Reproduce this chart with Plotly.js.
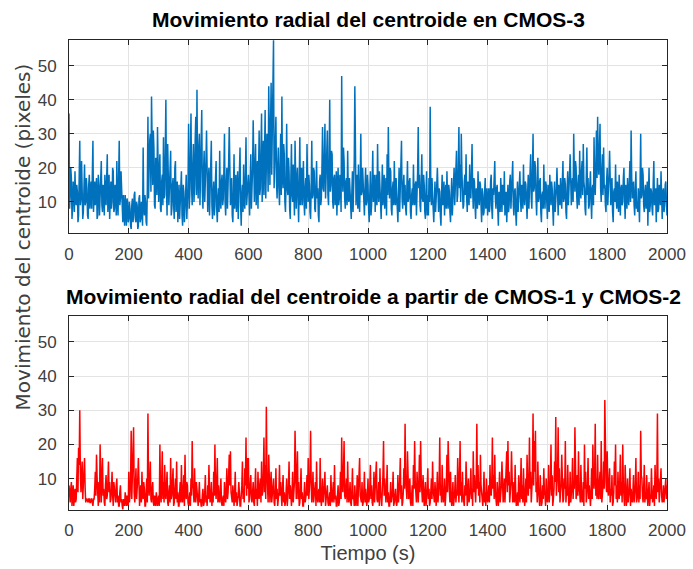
<!DOCTYPE html>
<html>
<head>
<meta charset="utf-8">
<script src="https://cdn.plot.ly/plotly-3.0.1.min.js"></script>
<style>html,body{margin:0;padding:0;background:#fff;}#chart{width:693px;height:569px;}</style>
</head>
<body>
<div id="chart"></div>
<script>
// Sample interval (s): the "main" arrays hold t = 0,4,8,...,2000 and the "mid" arrays t = 2,6,...,1998
const stepSeconds = 2;
const titles = ["Movimiento radial del centroide en CMOS-3", "Movimiento radial del centroide a partir de CMOS-1 y CMOS-2"];
const xTickVals = [0,200,400,600,800,1000,1200,1400,1600,1800,2000];
const yTickVals = [10,20,30,40,50];

// CMOS-3 radial movement (pixels) at t = 0,4,...,2000 s
const cmos3Main = [
36,12,17,8,14,19,9,13,6,28,11,16,7,21,10,14,5,18,12,8,28,13,9,17,6,
15,11,22,7,14,18,9,24,12,5,16,10,19,8,13,22,6,28,11,15,4,9,12,3,10,
5,8,2,11,6,13,4,9,3,12,5,8,26,6,10,3,35,22,30,41,15,26,8,19,32,
10,24,7,18,29,12,40,6,21,14,25,8,17,5,22,11,4,15,9,19,3,13,7,18,10,
33,12,36,9,27,15,35,43,11,30,18,37,8,25,14,31,7,20,12,28,5,16,9,22,4,
14,25,8,18,11,30,6,20,13,32,9,17,4,24,12,7,19,10,26,3,15,21,8,29,11,
18,6,24,13,34,10,27,16,8,31,14,36,20,12,37,18,25,44,15,45,30,57.5,22,35,11,
26,9,30,41,14,24,7,33,12,19,5,27,10,16,28,8,20,4,29,13,9,22,6,17,27,
10,15,5,28,12,19,7,22,14,4,18,11,32,13,33,20,31,9,40,15,24,8,18,12,6,
20,11,16,47,13,22,8,17,25,10,14,5,19,12,44,9,18,21,7,30,13,16,6,20,10,
15,4,19,9,25,12,7,18,27,10,15,5,21,13,8,17,24,32,11,19,6,16,22,9,14,
4,20,12,28,8,18,15,6,22,11,17,5,14,21,9,16,12,32,18,7,24,10,15,5,19,
12,17,38,9,14,4,16,10,20,7,13,3,18,11,6,15,19,8,13,4,17,10,20,14,25,
12,32,21,30,15,9,18,24,7,14,21,11,27,8,16,5,13,19,9,15,4,12,7,17,10,
6,14,9,18,5,12,22,8,15,3,11,17,7,13,19,10,4,15,9,18,12,22,6,14,3,
16,10,19,7,13,21,9,15,5,18,12,24,8,30,14,20,6,23,11,17,4,13,21,8,15,
5,12,18,9,14,3,16,10,20,6,13,17,8,22,11,15,5,19,12,24,9,17,30,13,20,
8,18,25,11,22,27,14,6,26,17,9,19,5,15,29,12,31,35,18,33,10,24,26,15,7,
20,12,25,9,17,4,14,21,8,12,18,6,15,10,20,5,13,17,9,22,31,11,16,6,19,
10,14,4,30,12,18,7,15,10,3,20,9,13,6,22,11,4,17,8,12,19,5,14,9,16,
6
];
// CMOS-3 radial movement (pixels) at t = 2,6,...,1998 s
const cmos3Mid = [
8,20,5,16,7,11,15,4,17,9,22,5,14,9,17,6,15,8,16,21,7,16,12,5,18,
6,19,9,15,6,12,17,7,18,13,8,20,7,15,6,10,17,9,19,6,12,3,8,11,4,
10,3,9,4,12,5,10,2,11,4,10,3,9,12,4,14,11,28,13,20,31,9,23,12,17,
19,8,16,9,11,25,14,27,9,23,6,15,9,20,7,16,12,5,17,6,15,4,12,5,14,
8,24,14,20,10,28,12,18,26,9,22,13,19,10,22,11,16,6,21,9,13,6,17,8,11,
7,11,16,9,19,10,15,8,22,12,14,6,13,8,18,14,5,17,9,12,7,11,18,9,15,
9,16,8,20,14,19,9,22,17,12,25,10,28,22,11,30,13,20,32,18,38,14,30,16,20,
14,20,12,18,27,10,16,14,23,8,17,12,21,6,14,17,11,16,9,20,15,10,14,8,16,
18,7,14,11,20,8,15,11,6,16,9,20,14,24,11,26,12,22,13,25,10,17,9,19,13,
9,18,7,20,26,11,16,9,12,17,8,13,7,22,18,15,8,11,16,12,20,8,14,9,18,
8,12,6,16,10,18,13,9,14,19,7,13,9,18,14,6,12,16,20,8,14,9,11,17,8,
13,7,17,11,15,9,8,14,10,16,7,12,9,11,15,6,19,14,9,16,11,18,7,13,6,
6,10,15,17,8,12,7,15,11,14,6,12,9,16,12,8,11,15,7,12,6,15,9,18,10,
20,14,10,19,8,16,12,11,16,9,13,18,14,17,9,14,8,12,16,9,14,6,13,8,14,
11,7,16,8,14,17,11,14,8,13,7,10,15,9,6,13,11,7,16,8,15,9,13,7,11,
7,14,11,15,8,12,16,10,13,8,15,11,19,13,22,11,14,10,16,7,12,8,12,16,10,
15,7,11,16,8,12,7,14,11,15,9,12,16,10,17,7,14,9,18,13,15,10,19,22,12,
15,9,14,19,12,16,8,17,12,8,15,10,14,9,16,20,17,22,26,14,19,12,14,9,16,
9,18,12,16,7,13,10,11,16,7,10,14,9,17,11,15,8,12,16,10,17,14,9,14,8,
7,10,15,11,20,9,13,8,16,12,7,14,8,16,9,14,12,7,15,9,11,13,7,15,10
];

// Radial movement from CMOS-1 and CMOS-2 (pixels) at t = 0,4,...,2000 s
const cmos12Main = [
8,3,9,5,2,7,4,16,19,30,6,15,10,16,3,4,3,4,3,4,2,4,12,17,5,
9,20,3,16,7,2,11,5,15,9,4,12,2,7,3,10,5,2,8,4,1,3,6,2,4,
12,5,24,9,25,3,13,6,16,2,8,12,4,7,2,10,29,5,15,3,9,2,4,6,2,
5,20,3,18,9,14,4,12,2,8,16,5,13,3,10,15,6,2,9,14,3,11,17,4,8,
2,6,10,21,7,13,3,5,2,9,4,2,7,3,11,5,8,14,3,9,6,12,20,4,16,
8,3,10,2,5,9,3,13,6,17,18,4,8,2,12,6,3,9,2,4,15,7,13,22,16,
16,5,11,3,9,2,13,7,12,4,10,15,6,22,14,31,8,17,3,12,5,10,2,13,7,
4,14,9,2,11,6,3,10,5,15,8,2,12,7,24,4,18,9,3,13,6,2,9,4,11,
16,7,24,3,12,5,9,15,3,7,16,2,10,5,12,4,8,2,6,11,3,9,14,5,2,
8,3,12,22,6,21,4,10,15,3,9,2,13,5,8,2,11,6,16,4,9,3,12,7,2,
10,4,14,8,2,12,6,15,3,9,13,4,7,21,10,3,14,6,2,9,5,12,3,7,2,
11,5,16,8,3,13,26,7,18,4,10,2,8,14,21,5,12,3,17,21,6,11,2,9,4,
13,7,3,10,15,5,9,2,12,6,22,8,14,3,10,5,17,21,7,12,2,9,4,11,6,
16,3,21,9,12,4,8,15,2,10,5,13,7,18,11,3,26,14,9,17,5,2,12,6,10,
3,8,14,5,22,11,17,4,9,2,12,6,15,3,10,7,18,21,12,5,18,3,9,14,2,
6,11,3,16,8,13,2,10,17,5,22,12,6,29,21,24,9,15,4,11,2,8,13,5,10,
3,14,7,20,11,4,15,28,9,25,13,6,17,3,10,21,7,14,2,12,5,16,9,25,4,
11,18,6,14,3,9,20,12,5,16,8,2,13,20,7,26,10,17,4,12,21,6,15,33,9,
18,5,13,7,11,3,15,20,8,12,4,17,9,20,6,14,2,10,5,13,7,3,11,6,16,
4,12,8,24,10,3,14,6,11,2,9,5,13,3,8,14,4,29,10,6,13,3,8,5,10,
8
];
// Radial movement from CMOS-1 and CMOS-2 (pixels) at t = 2,6,...,1998 s
const cmos12Mid = [
4,7,2,8,5,3,10,6,14,12,11,4,13,7,4,3,4,3,4,3,4,7,5,10,2,
3,6,11,5,3,8,4,9,6,3,7,5,9,4,8,3,2,6,3,2,4,2,3,5,2,
3,10,4,14,6,8,4,10,3,6,3,5,9,2,6,3,8,10,4,7,3,5,2,3,4,
2,6,9,4,3,6,8,3,6,3,4,9,2,7,4,3,2,6,3,5,7,2,6,9,3,
4,2,5,8,3,4,9,2,5,3,2,5,2,6,3,2,4,6,5,2,3,5,7,9,3,
4,6,3,4,2,5,7,4,11,8,6,3,4,6,3,2,5,3,2,8,4,3,8,5,7,
3,8,4,6,3,7,4,2,6,8,3,5,11,6,4,12,3,6,8,3,7,3,6,4,2,
6,5,3,7,3,2,6,2,8,4,3,6,3,9,6,10,4,2,7,4,2,5,3,6,5,
4,11,9,6,3,7,2,5,6,3,5,6,3,8,2,6,3,4,2,5,6,3,4,2,5,
2,6,4,9,12,5,7,3,6,5,3,6,4,2,3,5,2,9,5,3,2,6,3,4,5,
3,7,4,3,6,3,9,4,5,2,6,2,11,5,4,7,3,2,5,3,6,2,5,3,4,
3,9,4,2,6,7,10,4,8,6,3,5,2,7,9,3,4,8,6,10,3,4,5,2,7,
4,2,6,4,7,3,4,6,3,9,5,3,6,5,2,8,6,10,3,5,4,2,6,3,5,
6,9,5,3,5,2,5,4,6,3,7,4,2,6,4,9,7,5,3,8,3,6,3,2,5,
5,3,6,9,7,4,6,2,4,6,3,8,5,6,3,9,6,8,3,9,5,4,3,6,3,
2,5,7,4,3,6,5,3,8,9,7,3,11,8,12,6,3,7,2,5,3,4,6,2,5,
6,3,9,5,2,7,9,5,12,6,3,8,5,4,7,3,5,6,4,3,8,4,7,5,6,
5,7,3,6,4,2,7,3,8,4,3,6,4,9,11,5,4,6,9,4,3,8,7,12,6,
7,9,3,5,2,6,8,4,3,6,9,5,3,8,2,5,4,3,7,2,4,6,3,8,3,
6,3,4,11,5,7,3,4,5,6,2,4,6,5,2,7,9,6,3,9,5,4,3,6,4
];

function interleave(main, mid) {
  const out = [];
  for (let i = 0; i < main.length; i++) {
    out.push(main[i]);
    if (i < mid.length) out.push(mid[i]);
  }
  return out;
}
const cmos3 = interleave(cmos3Main, cmos3Mid);
const cmos12 = interleave(cmos12Main, cmos12Mid);
const tSec = cmos3.map((_, i) => i * stepSeconds);

const FONT = "Liberation Sans, Arial, Helvetica, sans-serif";
const axisFont = {family: FONT, size: 17, color: "#404040"};
const xaxisBase = {
  range: [0, 2000], tickvals: xTickVals, ticktext: xTickVals.map(String),
  showgrid: true, gridcolor: "#e3e3e3", gridwidth: 1, zeroline: false,
  showline: true, linecolor: "#262626", linewidth: 1, mirror: "ticks",
  ticks: "inside", ticklen: 5, tickcolor: "#262626", tickfont: axisFont,
  ticklabelstandoff: 5
};
const yaxisBase = {
  range: [0.8, 57.6], tickvals: yTickVals, ticktext: yTickVals.map(String),
  showgrid: true, gridcolor: "#e3e3e3", gridwidth: 1, zeroline: false,
  showline: true, linecolor: "#262626", linewidth: 1, mirror: "ticks",
  ticks: "inside", ticklen: 5, tickcolor: "#262626", tickfont: axisFont,
  ticklabelstandoff: 8
};

const data = [
  {x: tSec, y: cmos3, type: "scatter", mode: "lines", line: {color: "#0072BD", width: 1.5}, xaxis: "x", yaxis: "y", hoverinfo: "skip"},
  {x: tSec, y: cmos12, type: "scatter", mode: "lines", line: {color: "#FF0000", width: 1.5}, xaxis: "x2", yaxis: "y2", hoverinfo: "skip"}
];

const titleFont = {family: FONT, size: 21, color: "#000"};
const layout = {
  width: 693, height: 569,
  margin: {l: 69, r: 26, t: 40, b: 59},
  paper_bgcolor: "#ffffff", plot_bgcolor: "#ffffff",
  showlegend: false,
  xaxis: Object.assign({}, xaxisBase, {anchor: "y", domain: [0, 1]}),
  yaxis: Object.assign({}, yaxisBase, {anchor: "x", domain: [0.589, 1]}),
  xaxis2: Object.assign({}, xaxisBase, {anchor: "y2", domain: [0, 1],
    title: {text: "Tiempo (s)", font: {family: FONT, size: 20, color: "#404040"}, standoff: 6}}),
  yaxis2: Object.assign({}, yaxisBase, {anchor: "x2", domain: [0, 0.413]}),
  annotations: [
    {text: "<b>" + titles[0] + "</b>", xref: "paper", yref: "paper", x: 0.5, y: 1, yshift: 21, showarrow: false, xanchor: "center", yanchor: "middle", font: titleFont},
    {text: "<b>" + titles[1] + "</b>", xref: "paper", yref: "paper", x: 0.5, xshift: 5, y: 0.413, yshift: 19, showarrow: false, xanchor: "center", yanchor: "middle", font: titleFont},
    {text: "Movimiento del centroide (pixeles)", xref: "paper", yref: "paper", x: 0, xshift: -46, y: 0.58, showarrow: false, textangle: -90, xanchor: "center", yanchor: "middle", font: {family: "DejaVu Sans, Verdana, sans-serif", size: 20, color: "#404040"}}
  ]
};

Plotly.newPlot("chart", data, layout, {staticPlot: true, displayModeBar: false});
</script>
</body>
</html>
